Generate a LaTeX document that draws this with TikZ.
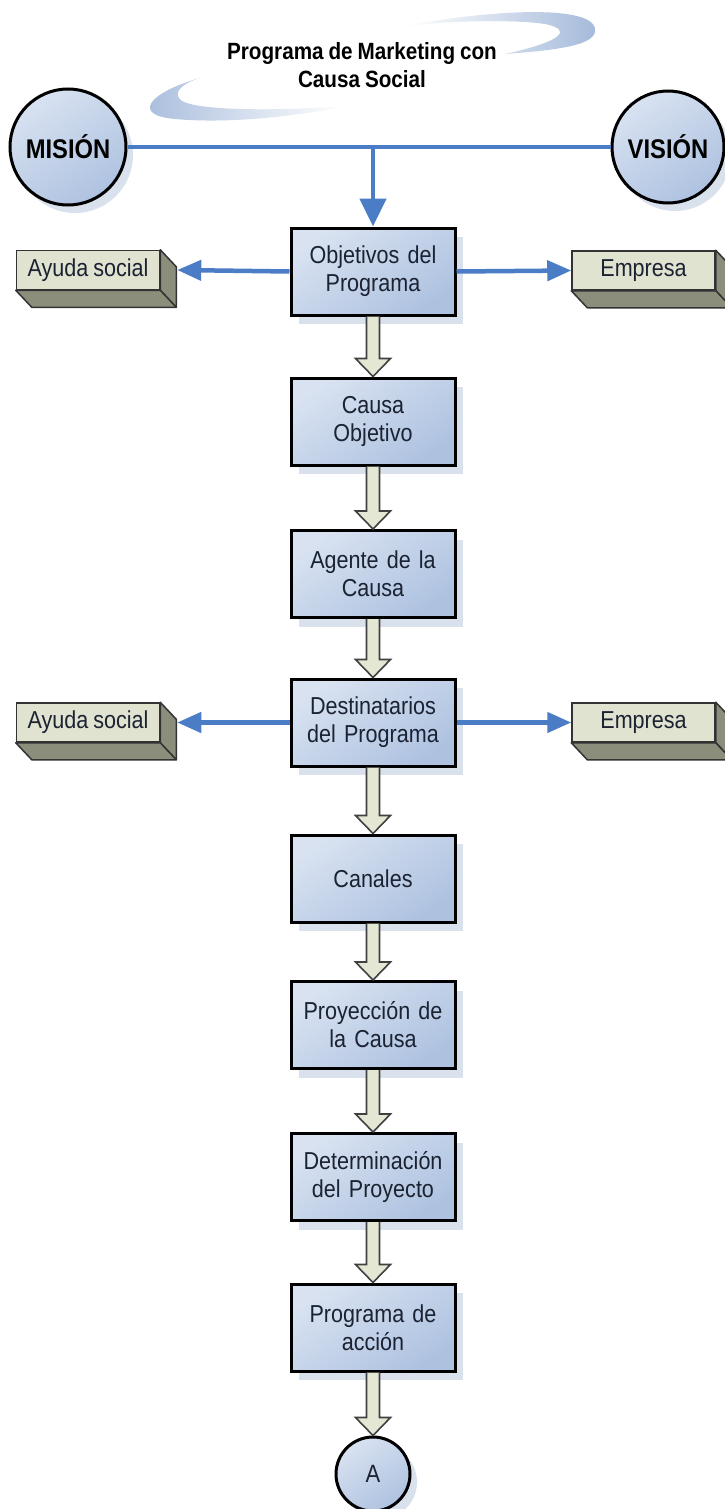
\documentclass[tikz,border=0pt]{standalone}
\usepackage{fontspec}
\setmainfont{Liberation Sans}[FakeStretch=0.88, WordSpace=0.85]
\usetikzlibrary{calc,shadows,arrows.meta}

\definecolor{linkblue}{HTML}{4A7DC6}
\definecolor{boxtop}{HTML}{D8E2F1}
\definecolor{boxbot}{HTML}{AEC2E0}
\definecolor{shadowblue}{HTML}{D9E1EC}
\definecolor{greige}{HTML}{E1E3D1}
\definecolor{olive}{HTML}{8C8E7C}
\definecolor{arrowfill}{HTML}{E5E7D5}
\definecolor{swoosh}{HTML}{A3B9DA}
\definecolor{ink}{HTML}{1B2232}

\tikzset{
  stepbox/.style={rectangle, draw=black, line width=3pt,
    top color=boxtop, bottom color=boxbot, shading angle=35,
    minimum width=164pt, minimum height=87pt, inner sep=0pt,
    text width=160pt, align=center, text=ink,
    font=\fontsize{24.5}{28}\selectfont,
    drop shadow={shadow xshift=8pt, shadow yshift=-9pt, fill=shadowblue, opacity=1}},
  roundnode/.style={circle, draw=black, line width=3pt,
    top color=boxtop, bottom color=boxbot, shading angle=35, inner sep=0pt,
    drop shadow={shadow xshift=7pt, shadow yshift=-8pt, fill=shadowblue, opacity=1}},
  sidebox/.style={rectangle, draw=black!80, line width=1.5pt, fill=greige,
    minimum width=143pt, minimum height=39pt, inner sep=0pt, text=ink,
    font=\fontsize{24.5}{28}\selectfont},
  sideface/.style={draw=black!80, line width=1.5pt, fill=olive, line join=round},
  hollow/.style={draw=black!75, line width=1.6pt, fill=arrowfill, line join=miter},
  bluelink/.style={draw=linkblue, line width=4.5pt},
  bluearrow/.style={bluelink, -{Triangle[length=24pt,width=20pt]}},
}

% extruded sides of a 3D label box
\newcommand\boxdepth[1]{%
  \filldraw[sideface] (#1.north east) -- ++(16,17) -- ($(#1.south east)+(16,17)$) -- (#1.south east) -- cycle;
  \filldraw[sideface] (#1.south west) -- (#1.south east) -- ++(16,17) -- ($(#1.south west)+(16,17)$) -- cycle;
}
% block arrow from the bottom of one node to the top of the next
\newcommand\hollowarrow[2]{%
  \filldraw[hollow] ($(#1.south)+(-6.5,0)$) -- ($(#2.north)+(-6.5,-18)$) -- ($(#2.north)+(-17.5,-18)$)
    -- (#2.north) -- ($(#2.north)+(17.5,-18)$) -- ($(#2.north)+(6.5,-18)$) -- ($(#1.south)+(6.5,0)$);
}

\begin{document}
\begin{tikzpicture}[x=1pt, y=-1pt]
\useasboundingbox[fill=white] (0,0) rectangle (725,1509);

% title with its swoosh
\shade[left color=white, right color=swoosh]
  (405,26) .. controls (500,8) and (600,5) .. (595,32)
  .. controls (592,45) and (560,50) .. (505,54)
  .. controls (560,42) and (575,30) .. (545,24)
  .. controls (510,19) and (450,21) .. (405,26) -- cycle;
\shade[left color=swoosh, right color=white]
  (200,78) .. controls (150,92) and (130,115) .. (175,119)
  .. controls (230,124) and (300,116) .. (345,106)
  .. controls (280,111) and (200,111) .. (182,101)
  .. controls (172,94) and (180,84) .. (200,78) -- cycle;
\node[align=center, font=\bfseries\fontsize{23.5}{28}\selectfont] (title) at (362,65)
  {Programa de Marketing con\\Causa Social};

% mission and vision
\node[roundnode, minimum size=116pt, font=\bfseries\fontsize{27}{30}\selectfont] (mis) at (68,147) {MISIÓN};
\node[roundnode, minimum size=112pt, font=\bfseries\fontsize{27}{30}\selectfont] (vis) at (668,147) {VISIÓN};

% main sequence
\node[stepbox] (obj) at (373,271.5) {Objetivos del\\Programa};
\node[stepbox] (cau) at (373,421.5) {Causa\\Objetivo};
\node[stepbox] (age) at (373,574)   {Agente de la\\Causa};
\node[stepbox] (des) at (373,722.5) {Destinatarios\\del Programa};
\node[stepbox] (can) at (373,878.5) {Canales};
\node[stepbox] (pro) at (373,1025)  {Proyección de\\la Causa};
\node[stepbox] (det) at (373,1177)  {Determinación\\del Proyecto};
\node[stepbox] (acc) at (373,1327.5){Programa de\\acción};
\node[roundnode, minimum size=74pt, text=ink, font=\fontsize{25}{28}\selectfont] (end) at (373,1474) {A};

% side labels
\node[sidebox] (ay1) at (88,270)    {Ayuda social};
\node[sidebox] (em1) at (643.5,270.5) {Empresa};
\node[sidebox] (ay2) at (88,722.5)  {Ayuda social};
\node[sidebox] (em2) at (643.5,722.5) {Empresa};
\boxdepth{ay1}
\boxdepth{em1}
\boxdepth{ay2}
\boxdepth{em2}

% blue connectors
\coordinate (join) at (373,147);
\draw[bluelink] (mis.east) -- (vis.west);
\draw[bluearrow, -{Triangle[length=28pt,width=26pt]}] (join) -- (obj.north);
\coordinate (ay1tip) at ($(ay1.east)+(17,0)$);
\coordinate (ay2tip) at ($(ay2.east)+(17,0)$);
\draw[bluearrow] (obj.west) -- (ay1tip);
\draw[bluearrow] (obj.east) -- (em1.west);
\draw[bluearrow] (des.west) -- (ay2tip);
\draw[bluearrow] (des.east) -- (em2.west);

% block arrows down the column
\hollowarrow{obj}{cau}
\hollowarrow{cau}{age}
\hollowarrow{age}{des}
\hollowarrow{des}{can}
\hollowarrow{can}{pro}
\hollowarrow{pro}{det}
\hollowarrow{det}{acc}
\hollowarrow{acc}{end}
\end{tikzpicture}
\end{document}
